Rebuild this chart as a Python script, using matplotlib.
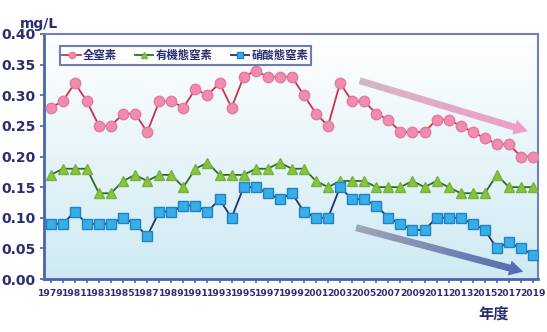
import numpy as np
import matplotlib
matplotlib.use("Agg")
import matplotlib.pyplot as plt
from matplotlib.patches import FancyArrowPatch

plt.rcParams['font.family'] = ['Noto Sans CJK JP', 'DejaVu Sans']

years = list(range(1979, 2020))

# 全窒素 (mg/L)
total_n = [0.28, 0.29, 0.32, 0.29, 0.25, 0.25, 0.27, 0.27, 0.24, 0.29,
           0.29, 0.28, 0.31, 0.30, 0.32, 0.28, 0.33, 0.34, 0.33, 0.33,
           0.33, 0.30, 0.27, 0.25, 0.32, 0.29, 0.29, 0.27, 0.26, 0.24,
           0.24, 0.24, 0.26, 0.26, 0.25, 0.24, 0.23, 0.22, 0.22, 0.20,
           0.20]
# 有機態窒素
organic_n = [0.17, 0.18, 0.18, 0.18, 0.14, 0.14, 0.16, 0.17, 0.16, 0.17,
             0.17, 0.15, 0.18, 0.19, 0.17, 0.17, 0.17, 0.18, 0.18, 0.19,
             0.18, 0.18, 0.16, 0.15, 0.16, 0.16, 0.16, 0.15, 0.15, 0.15,
             0.16, 0.15, 0.16, 0.15, 0.14, 0.14, 0.14, 0.17, 0.15, 0.15,
             0.15]
# 硝酸態窒素
nitrate_n = [0.09, 0.09, 0.11, 0.09, 0.09, 0.09, 0.10, 0.09, 0.07, 0.11,
             0.11, 0.12, 0.12, 0.11, 0.13, 0.10, 0.15, 0.15, 0.14, 0.13,
             0.14, 0.11, 0.10, 0.10, 0.15, 0.13, 0.13, 0.12, 0.10, 0.09,
             0.08, 0.08, 0.10, 0.10, 0.10, 0.09, 0.08, 0.05, 0.06, 0.05,
             0.04]

labels = ['全窒素', '有機態窒素', '硝酸態窒素']
navy = '#2b2f72'
x0, x1 = 1978.44, 2019.41

fig = plt.figure(figsize=(5.47, 3.32), dpi=100)
ax = fig.add_axes([0.0804, 0.1596, 0.9031, 0.738])

# 背景のグラデーション (上が白, 下が水色)
grad = np.linspace(0, 1, 256).reshape(-1, 1)
cmap = matplotlib.colors.LinearSegmentedColormap.from_list('bg', ['#ffffff', '#cfeaf3'])
ax.imshow(grad, aspect='auto', cmap=cmap, extent=[x0, x1, 0.0, 0.40],
          origin='upper', zorder=0)

ax.plot(years, total_n, color='#d0304a', lw=1.3, marker='o', ms=7.5,
        mfc='#f08cb0', mec='#e6799f', label=labels[0], zorder=3)
ax.plot(years, organic_n, color='#2f6a2a', lw=1.3, marker='^', ms=7.5,
        mfc='#86c440', mec='#78b238', label=labels[1], zorder=3)
ax.plot(years, nitrate_n, color='#26306e', lw=1.3, marker='s', ms=7.5,
        mfc='#38aee8', mec='#1f82c4', label=labels[2], zorder=3)


# 減少傾向の矢印 (グラデーション付き)
def trend_arrow(start, end, c0, c1):
    arr = FancyArrowPatch(start, end, mutation_scale=10,
                          arrowstyle='simple,head_width=1.1,head_length=1.0,tail_width=0.5',
                          fc='none', ec='none', zorder=2)
    ax.add_patch(arr)
    cm = matplotlib.colors.LinearSegmentedColormap.from_list('a', [c0, c1])
    g = np.linspace(0, 1, 256).reshape(1, -1)
    im = ax.imshow(g, aspect='auto', cmap=cm, zorder=2,
                   extent=[start[0] - 0.5, end[0] + 0.5, end[1] - 0.03, start[1] + 0.03])
    im.set_clip_path(arr)


trend_arrow((2004.4, 0.325), (2018.8, 0.24), '#d2b8c6', '#f29cc8')
trend_arrow((2004.1, 0.085), (2018.4, 0.011), '#a4aab8', '#4f66b0')

ax.set_xlim(x0, x1)
ax.set_ylim(0, 0.40)
ax.set_yticks(np.arange(0, 0.41, 0.05))
ax.set_yticklabels(['%.2f' % v for v in np.arange(0, 0.41, 0.05)],
                   fontsize=10, fontweight='bold', color=navy, family='DejaVu Sans')
ax.set_xticks(years[::2])
ax.set_xticks(years, minor=True)
ax.set_xticklabels([str(y) for y in years[::2]], fontsize=6.6, fontweight='bold',
                   color=navy, family=['Liberation Sans Narrow', 'DejaVu Sans'])
ax.tick_params(axis='both', colors='#4a64b0', length=3, width=1.2)
ax.tick_params(axis='x', which='minor', colors='#4a64b0', length=3, width=1.2)
ax.tick_params(axis='x', pad=4, labelcolor=navy)
ax.tick_params(axis='y', pad=3, labelcolor=navy)

for side in ['left', 'bottom']:
    ax.spines[side].set_color('#4a64b0')
    ax.spines[side].set_linewidth(2)
for side in ['top', 'right']:
    ax.spines[side].set_color('#7080b8')
    ax.spines[side].set_linewidth(1.5)

leg = ax.legend(loc='upper left', bbox_to_anchor=(0.02, 0.975), ncol=3,
                prop={'size': 8.2, 'weight': 'bold'}, frameon=True, fancybox=False,
                handlelength=1.6, handletextpad=0.2, columnspacing=1.6,
                borderpad=0.25, markerscale=0.6)
leg.get_frame().set_edgecolor('#4a5aa8')
leg.get_frame().set_linewidth(1.5)
leg.get_frame().set_facecolor('white')
for t in leg.get_texts():
    t.set_color(navy)

fig.text(0.037, 0.915, 'mg/L', fontsize=10, fontweight='bold', color=navy,
         family='DejaVu Sans')
fig.text(0.874, 0.04, '年度', fontsize=11, fontweight='bold', color=navy)

fig.savefig('out.png', dpi=100)
